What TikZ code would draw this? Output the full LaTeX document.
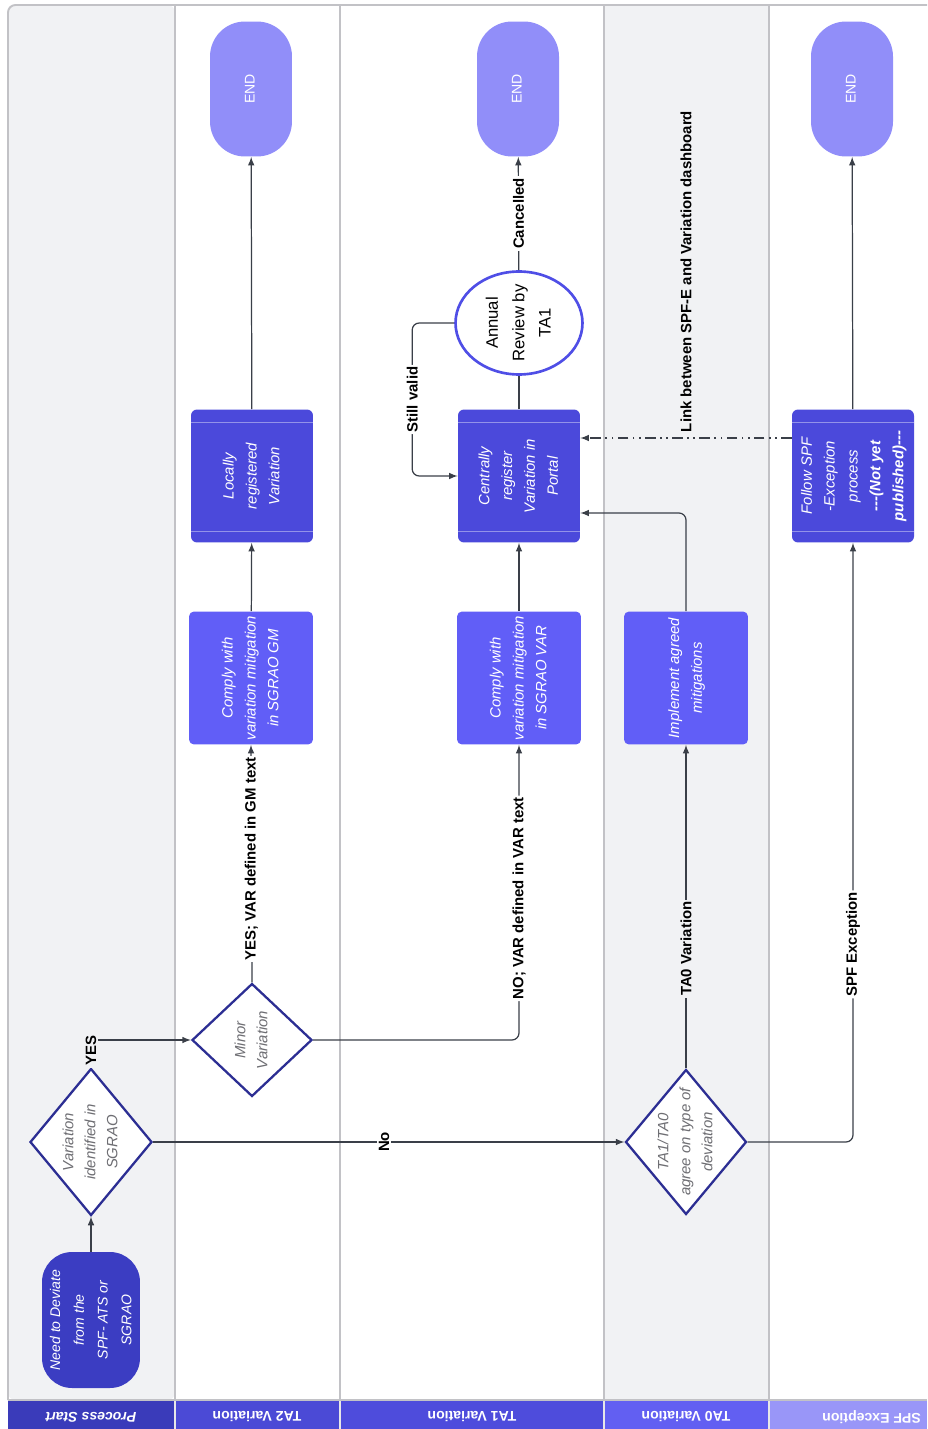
\documentclass[tikz,border=0pt]{standalone}
\usepackage{fontspec}
\setmainfont{Liberation Sans}
\usepackage{graphicx}
\usetikzlibrary{shapes,arrows}

\definecolor{lanegray}{HTML}{F1F2F4}
\definecolor{laneline}{HTML}{C2C2C6}
\definecolor{startblue}{HTML}{3B3DC2}
\definecolor{boxblue}{HTML}{4B49DB}
\definecolor{stepblue}{HTML}{615EF7}
\definecolor{endblue}{HTML}{918EF9}
\definecolor{navy}{HTML}{2C2E93}
\definecolor{ringblue}{HTML}{4F4EE6}
\definecolor{wire}{HTML}{3A3F48}
\definecolor{decgray}{HTML}{6E6E73}
\definecolor{hdrA}{HTML}{3A3BBA}
\definecolor{hdrB}{HTML}{4B4AD6}
\definecolor{hdrC}{HTML}{4E4CDC}
\definecolor{hdrD}{HTML}{625FF2}
\definecolor{hdrE}{HTML}{9996F8}

% text turned to read from bottom to top, taking no room in the node
\newcommand{\vtext}[1]{\smash{\makebox[0pt]{\raisebox{-.5\height}{\rotatebox{90}{\begin{tabular}{@{}c@{}}#1\end{tabular}}}}}}

\tikzset{
  lane/.style={draw=laneline, line width=1.1pt},
  terminal/.style={fill=startblue, rounded corners=0.6cm, minimum width=1.96cm, minimum height=2.72cm,
    inner sep=0pt, text=white, font=\fontsize{8}{13.5}\selectfont\itshape},
  endcap/.style={fill=endblue, rounded corners=0.7cm, minimum width=1.64cm, minimum height=2.7cm,
    inner sep=0pt, text=white, font=\fontsize{8}{10}\selectfont},
  decision/.style={diamond, draw=navy, line width=1.3pt, fill=white, inner sep=0pt,
    text=decgray, font=\fontsize{8.5}{12.5}\selectfont\itshape},
  stepbox/.style={fill=stepblue, rounded corners=0.1cm, minimum width=2.48cm, minimum height=2.66cm,
    inner sep=0pt, text=white, font=\fontsize{8.5}{13}\selectfont\itshape},
  regbox/.style={fill=boxblue, rounded corners=0.12cm, minimum width=2.44cm, minimum height=2.66cm,
    inner sep=0pt, text=white, font=\fontsize{8.5}{13}\selectfont\itshape,
    path picture={\draw[white!40!boxblue, line width=0.5pt]
      ([yshift=-0.26cm]path picture bounding box.north west) -- ([yshift=-0.26cm]path picture bounding box.north east)
      ([yshift=0.22cm]path picture bounding box.south west) -- ([yshift=0.22cm]path picture bounding box.south east);}},
  review/.style={ellipse, draw=ringblue, line width=1.5pt, fill=white, minimum width=2.54cm,
    minimum height=2.06cm, inner sep=0pt, font=\fontsize{9.5}{15}\selectfont},
  flow/.style={->, >=latex, draw=wire, line width=0.7pt},
  linkline/.style={flow, dash pattern=on 6pt off 2.5pt on 1pt off 2.5pt on 1pt off 2.5pt},
  lab/.style={rotate=90, fill=white, inner sep=1pt, text=black, font=\fontsize{8.5}{10}\selectfont\bfseries},
  hdr/.style={rotate=180, text=white, font=\fontsize{8}{10}\selectfont\bfseries},
}

\begin{document}
\begin{tikzpicture}[x=0.02cm,y=-0.02cm]
\useasboundingbox (0,0) rectangle (927,1429);
%-------->lanes<--------------
\fill[lanegray, rounded corners=0.15cm] (8,1400) -- (8,5) -- (175,5) -- (175,1400) -- cycle;
\fill[lanegray] (604,5) rectangle (769,1400);
\draw[lane, rounded corners=0.15cm] (8,1400) -- (8,5) -- (927,5);
\foreach \lx in {175,340,604,769}
  \draw[lane] (\lx,5) -- (\lx,1400);
\draw[lane] (8,1400) -- (927,1400);
%-------->lane headers<--------------
\fill[hdrA] (8,1401) rectangle (175,1429);
\fill[hdrB] (175,1401) rectangle (340,1429);
\fill[hdrC] (340,1401) rectangle (604,1429);
\fill[hdrD] (604,1401) rectangle (769,1429);
\fill[hdrE] (769,1401) rectangle (927,1429);
\foreach \lx in {175,340,604,769}
  \draw[white!60!laneline, line width=0.6pt] (\lx,1401) -- (\lx,1429);
\node[hdr] (hStart) at (91,1417) {\itshape Process Start};
\node[hdr] (hTA2) at (257,1417) {TA2 Variation};
\node[hdr] (hTA1) at (472,1417) {TA1 Variation};
\node[hdr] (hTA0) at (686,1417) {TA0 Variation};
\node[hdr, anchor=west] (hSPF) at (927,1417) {SPF Exception};
%-------->nodes<--------------
\node[terminal] (start) at (91,1320) {\vtext{Need to Deviate\\from the\\SPF- ATS or\\SGRAO}};
\node[decision, minimum width=2.44cm, minimum height=2.94cm] (d1) at (91,1142) {\vtext{Variation\\identified in\\SGRAO}};
\node[decision, minimum width=2.4cm, minimum height=2.26cm] (d2) at (252,1040) {\vtext{Minor\\Variation}};
\node[decision, minimum width=2.42cm, minimum height=2.9cm] (d3) at (686,1142) {\vtext{TA1/TA0\\agree on type of\\deviation}};
\node[stepbox] (p1) at (251,678) {\vtext{Comply with\\variation mitigation\\in SGRAO GM}};
\node[stepbox] (p2) at (519,678) {\vtext{Comply with\\variation mitigation\\in SGRAO VAR}};
\node[stepbox] (p3) at (686,678) {\vtext{Implement agreed\\mitigations}};
\node[regbox] (p4) at (252,476) {\vtext{Locally\\registered\\Variation}};
\node[regbox] (cen) at (519,476) {\vtext{Centrally\\register\\Variation in\\Portal}};
\node[regbox] (fol) at (853,476) {\vtext{Follow SPF\\-Exception\\process\\\bfseries -{}-{}-(Not yet\\\bfseries published)-{}-{}-}};
\node[review] (rev) at (519,323) {\vtext{Annual\\Review by\\TA1}};
\node[endcap] (end1) at (251,89) {\vtext{END}};
\node[endcap] (end2) at (518,89) {\vtext{END}};
\node[endcap] (end3) at (852,89) {\vtext{END}};
%-------->connectors<--------------
\draw[flow] (start) -- (d1);
\draw[flow] (d1.north) |- node[lab, fill=lanegray, pos=.3] {YES} (d2.west);
\draw[flow] (d1.east) -- node[lab, pos=.49] {No} (d3.west);
\draw[flow] (d2.north) -- node[lab, pos=.52] {YES; VAR defined in GM text} (p1.south);
\draw[flow, rounded corners=4] (d2.east) -| node[lab, pos=.74] {NO; VAR defined in VAR text} (p2.south);
\draw[flow] (d3.north) -- node[lab, fill=lanegray, pos=.37] {TA0 Variation} (p3.south);
\draw[flow, rounded corners=4] (d3.east) -| node[lab, pos=.665] {SPF Exception} (fol.south);
\draw[flow] (p1) -- (p4);
\draw[flow] (p2) -- (cen);
\draw[flow, rounded corners=4] (p3.north) |- (cen.east |- 0,513);
\draw[flow] (p4) -- (end1);
\draw[flow] (fol) -- (end3);
\draw[linkline] (fol.west |- 0,438) -- node[lab, fill=none, anchor=west, inner sep=3pt] {Link between SPF-E and Variation dashboard} (cen.east |- 0,438);
\draw[wire, line width=0.7pt] (cen) -- (rev);
\draw[flow] (rev) -- node[lab] {Cancelled} (end2);
\draw[flow, rounded corners=4] (rev.west) -- ++(-42,0) |- node[lab, pos=.25] {Still valid} (cen.west);
\end{tikzpicture}
\end{document}
